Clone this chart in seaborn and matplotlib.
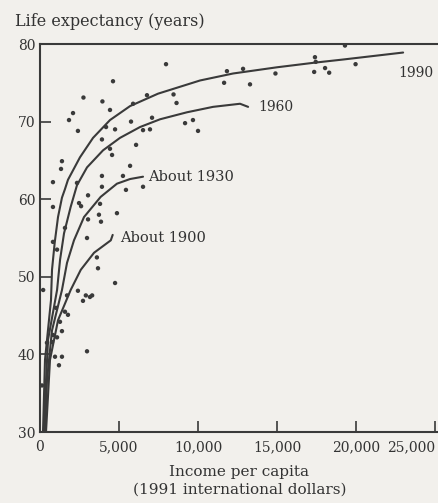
import numpy as np
import pandas as pd
import seaborn as sns
import matplotlib.pyplot as plt

# scattered country observations (income, life expectancy)
pts_income = [7975, 4620, 2750, 3950, 2090, 1835, 2400, 4180, 4750, 5760,
              8450, 8640, 9180, 9680, 10000, 3920, 4430, 4560, 6080, 5700,
              5250, 3920, 1390, 1330, 820, 5440, 6520, 3040, 2600, 820,
              3800, 4870, 3040, 3860, 2975, 820, 3600, 3670, 4750, 2400,
              2720, 3160, 2975, 950, 1390, 1200, 1390, 820, 440, 1580,
              1770, 1265, 125, 11830, 12850, 11650, 13290, 14900, 17400, 17450,
              17350, 18300, 18040, 19300, 19970, 7090, 6960, 6520, 4430, 5890,
              6770, 2340, 2470, 3730, 1580, 1080, 1010, 1080, 760, 3920,
              2900, 3300, 1710, 200]
pts_life = [77.4, 75.2, 73.1, 72.6, 71.1, 70.2, 68.8, 69.3, 69.0, 70.0,
            73.5, 72.4, 69.8, 70.2, 68.8, 67.7, 66.5, 65.7, 67.0, 64.3,
            63.0, 63.0, 64.9, 63.9, 62.2, 61.2, 61.6, 60.5, 59.1, 59.0,
            59.4, 58.2, 57.4, 57.1, 55.0, 54.5, 52.5, 51.1, 49.2, 48.2,
            46.9, 47.4, 40.4, 39.7, 39.7, 38.6, 43.0, 42.5, 41.5, 45.5,
            45.1, 44.2, 36.0, 76.5, 76.8, 75.0, 74.8, 76.2, 78.3, 77.7,
            76.4, 76.3, 76.9, 79.8, 77.4, 70.5, 69.0, 68.9, 71.5, 72.3,
            73.4, 62.1, 59.5, 58.0, 56.3, 53.5, 46.0, 42.2, 41.6, 61.6,
            47.6, 47.6, 47.6, 48.3]

# fitted curves
c1990_income = [190, 316, 696, 760, 930, 1140, 1390, 1580, 1770, 2530,
                3355, 4430, 5700, 7470, 10130, 12220, 15000, 17400, 19180, 22980]
c1990_life = [30.0, 39.3, 47.0, 50.9, 54.4, 57.7, 60.2, 61.3, 62.5, 65.4,
              67.9, 70.2, 72.0, 73.6, 75.3, 76.2, 77.0, 77.6, 78.0, 78.9]
c1960_income = [250, 320, 510, 1080, 1270, 1520, 1940, 2340, 2975, 3990,
                5060, 6330, 7600, 9300, 10950, 12660, 13170]
c1960_life = [30.0, 34.1, 41.9, 48.3, 52.2, 55.6, 59.0, 61.8, 64.1, 66.3,
              67.9, 69.3, 70.3, 71.2, 71.9, 72.3, 71.9]
c1930_income = [316, 443, 760, 1390, 1710, 2150, 2785, 3840, 4870, 5700, 6520]
c1930_life = [30.0, 36.7, 43.1, 48.3, 51.8, 54.7, 57.7, 60.3, 62.0, 62.6, 62.9]
c1900_income = [380, 633, 1140, 1940, 2580, 3420, 4480, 4600]
c1900_life = [30.0, 39.3, 44.4, 48.3, 50.9, 53.1, 54.7, 55.4]

curve_names = ['1990', '1960', 'About 1930', 'About 1900']
label_x = [22660, 13800, 6840, 5060]
label_y = [76.3, 71.9, 62.9, 55.0]

bg = '#f2f0ec'
ink = '#333333'

sns.set_theme(style='ticks')
plt.rcParams['font.family'] = ['DejaVu Serif']

fig = plt.figure(figsize=(4.39, 5.03), dpi=100, facecolor=bg)
ax = fig.add_axes([40 / 439, 71 / 503, 399 / 439, 388 / 503])
ax.set_facecolor(bg)

curves = pd.concat([
    pd.DataFrame({'income': c1990_income, 'life': c1990_life, 'curve': '1990'}),
    pd.DataFrame({'income': c1960_income, 'life': c1960_life, 'curve': '1960'}),
    pd.DataFrame({'income': c1930_income, 'life': c1930_life, 'curve': 'About 1930'}),
    pd.DataFrame({'income': c1900_income, 'life': c1900_life, 'curve': 'About 1900'}),
])
sns.lineplot(data=curves, x='income', y='life', units='curve', estimator=None,
             sort=False, color='#3a3a3a', linewidth=1.5, ax=ax)

pts = pd.DataFrame({'income': pts_income, 'life': pts_life})
sns.scatterplot(data=pts, x='income', y='life', color='#3a3a3a', s=10,
                edgecolor='none', ax=ax)

for name, lx, ly in zip(curve_names, label_x, label_y):
    ax.text(lx, ly, name, fontsize=10.5 if name.startswith('About') else 10,
            color=ink, va='center', ha='left')

ax.set_xlim(0, 25250)
ax.set_ylim(30, 80)
ax.set_xticks([0, 5000, 10000, 15000, 20000, 25000])
ax.set_xticklabels(['0', '5,000', '10,000', '15,000', '20,000', '25,000'])
ax.get_xticklabels()[-1].set_horizontalalignment('right')
ax.set_yticks([30, 40, 50, 60, 70, 80])
ax.tick_params(direction='in', length=8, width=1.2, colors='#3a3a3a',
               labelcolor=ink, labelsize=10)
ax.tick_params(axis='x', pad=6)
for side in ['left', 'bottom', 'top']:
    ax.spines[side].set_color('#3a3a3a')
    ax.spines[side].set_linewidth(1.5)
ax.spines['right'].set_visible(False)

ax.set_xlabel('Income per capita\n(1991 international dollars)', fontsize=11,
              color=ink, linespacing=1.3, labelpad=8)
ax.set_ylabel('')
fig.text(15 / 439, 1 - 22 / 503, 'Life expectancy (years)', fontsize=11.5,
         color=ink, va='center', ha='left')

fig.savefig('out.png', dpi=100, facecolor=bg)
